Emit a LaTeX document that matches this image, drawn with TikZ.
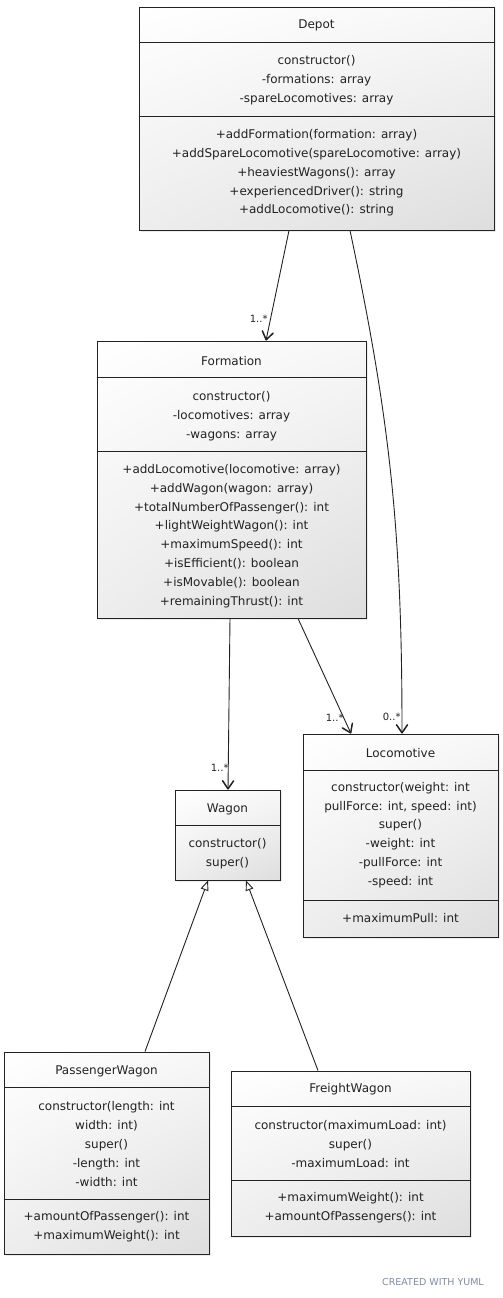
\documentclass[tikz,border=0pt]{standalone}
\usepackage{fontspec}
\setmainfont{DejaVu Sans}
\usetikzlibrary{arrows.meta,shadows,shadings}
\definecolor{linecol}{RGB}{34,34,34}
\definecolor{yumlcol}{RGB}{128,140,160}
\tikzset{
  classbox/.style={
    rectangle, draw=linecol, line width=0.9pt, inner sep=0pt,
    shade, upper left=white, upper right=gray!6, lower left=gray!14, lower right=gray!26,
    drop shadow={shadow xshift=2pt, shadow yshift=-2pt, opacity=0.15}
  },
  members/.style={align=center, inner sep=0pt, text=linecol,
    font=\fontsize{12}{18.8}\selectfont},
  divider/.style={draw=linecol, line width=0.8pt},
  assoc/.style={draw=linecol, line width=0.9pt,
    -{Straight Barb[length=8pt,width=11pt,line width=1.5pt,round]}},
  inherit/.style={draw=linecol, line width=0.9pt, -{Triangle[open,fill=white,length=10pt,width=8pt]}},
  multlabel/.style={inner sep=0pt, text=linecol, font=\fontsize{10}{12}\selectfont},
  credit/.style={text=yumlcol, font=\fontsize{9.5}{11}\selectfont}
}

\begin{document}
\begin{tikzpicture}[x=1pt,y=-1pt]
  \path[fill=white, use as bounding box] (0,0) rectangle (503,1298);

  \node[classbox, minimum width=355pt, minimum height=223pt] (depot) at (316.5,118.5) {};
  \node[classbox, minimum width=269pt, minimum height=277pt] (formation) at (231.5,479.5) {};
  \node[classbox, minimum width=195pt, minimum height=203pt] (loco) at (400.5,835.5) {};
  \node[classbox, minimum width=105pt, minimum height=90pt] (wagon) at (227.5,835) {};
  \node[classbox, minimum width=205pt, minimum height=202pt] (passenger) at (106.5,1153) {};
  \node[classbox, minimum width=239pt, minimum height=165pt] (freight) at (350.5,1153.5) {};

  \foreach \cls/\y in {depot/42,depot/116,formation/377,formation/451,loco/770,loco/900,
                       wagon/825,passenger/1087,passenger/1199,freight/1106,freight/1180}
    \draw[divider] (\cls.west |- 0,\y) -- (\cls.east |- 0,\y);

  \node[members] (depot-name) at (depot.center |- 0,25) {Depot};
  \node[members] (depot-attr) at (depot.center |- 0,80)
    {constructor()\\-formations: array\\-spareLocomotives: array};
  \node[members] (depot-ops) at (depot.center |- 0,173)
    {+addFormation(formation: array)\\+addSpareLocomotive(spareLocomotive: array)\\
     +heaviestWagons(): array\\+experiencedDriver(): string\\+addLocomotive(): string};

  \node[members] (formation-name) at (formation.center |- 0,361) {Formation};
  \node[members] (formation-attr) at (formation.center |- 0,416)
    {constructor()\\-locomotives: array\\-wagons: array};
  \node[members] (formation-ops) at (formation.center |- 0,536)
    {+addLocomotive(locomotive: array)\\+addWagon(wagon: array)\\+totalNumberOfPassenger(): int\\
     +lightWeightWagon(): int\\+maximumSpeed(): int\\+isEfficient(): boolean\\
     +isMovable(): boolean\\+remainingThrust(): int};

  \node[members] (loco-name) at (loco.center |- 0,753) {Locomotive};
  \node[members] (loco-attr) at (loco.center |- 0,835)
    {constructor(weight: int\\pullForce: int, speed: int)\\super()\\-weight: int\\-pullForce: int\\-speed: int};
  \node[members] (loco-ops) at (loco.center |- 0,918) {+maximumPull: int};

  \node[members] (wagon-name) at (wagon.center |- 0,809) {Wagon};
  \node[members] (wagon-attr) at (wagon.center |- 0,854) {constructor()\\super()};

  \node[members] (passenger-name) at (passenger.center |- 0,1071) {PassengerWagon};
  \node[members] (passenger-attr) at (passenger.center |- 0,1144)
    {constructor(length: int\\width: int)\\super()\\-length: int\\-width: int};
  \node[members] (passenger-ops) at (passenger.center |- 0,1227)
    {+amountOfPassenger(): int\\+maximumWeight(): int};

  \node[members] (freight-name) at (freight.center |- 0,1089) {FreightWagon};
  \node[members] (freight-attr) at (freight.center |- 0,1144)
    {constructor(maximumLoad: int)\\super()\\-maximumLoad: int};
  \node[members] (freight-ops) at (freight.center |- 0,1208)
    {+maximumWeight(): int\\+amountOfPassengers(): int};

  \draw[assoc] ([xshift=-27.5pt]depot.south) -- ([xshift=34.5pt]formation.north)
    node[multlabel, at end, anchor=south east, xshift=2pt, yshift=18pt] (m1) {1..*};
  \draw[assoc] ([xshift=33.5pt]depot.south) to[out=-78,in=90]
    node[multlabel, at end, anchor=south east, xshift=-1pt, yshift=12pt] (m2) {0..*}
    ([xshift=1.5pt]loco.north);
  \draw[assoc] ([xshift=66.5pt]formation.south) -- ([xshift=-49.5pt]loco.north)
    node[multlabel, at end, anchor=south east, xshift=-7pt, yshift=12pt] (m3) {1..*};
  \draw[assoc] ([xshift=-1.5pt]formation.south) -- ([xshift=0.5pt]wagon.north)
    node[multlabel, at end, anchor=south east, xshift=1pt, yshift=18pt] (m4) {1..*};

  \draw[inherit] ([xshift=38.5pt]passenger.north) -- ([xshift=-19.5pt]wagon.south);
  \draw[inherit] ([xshift=-32.5pt]freight.north) -- ([xshift=18.5pt]wagon.south);

  \node[credit] (credit) at (433,1282) {CREATED WITH YUML};
\end{tikzpicture}
\end{document}
